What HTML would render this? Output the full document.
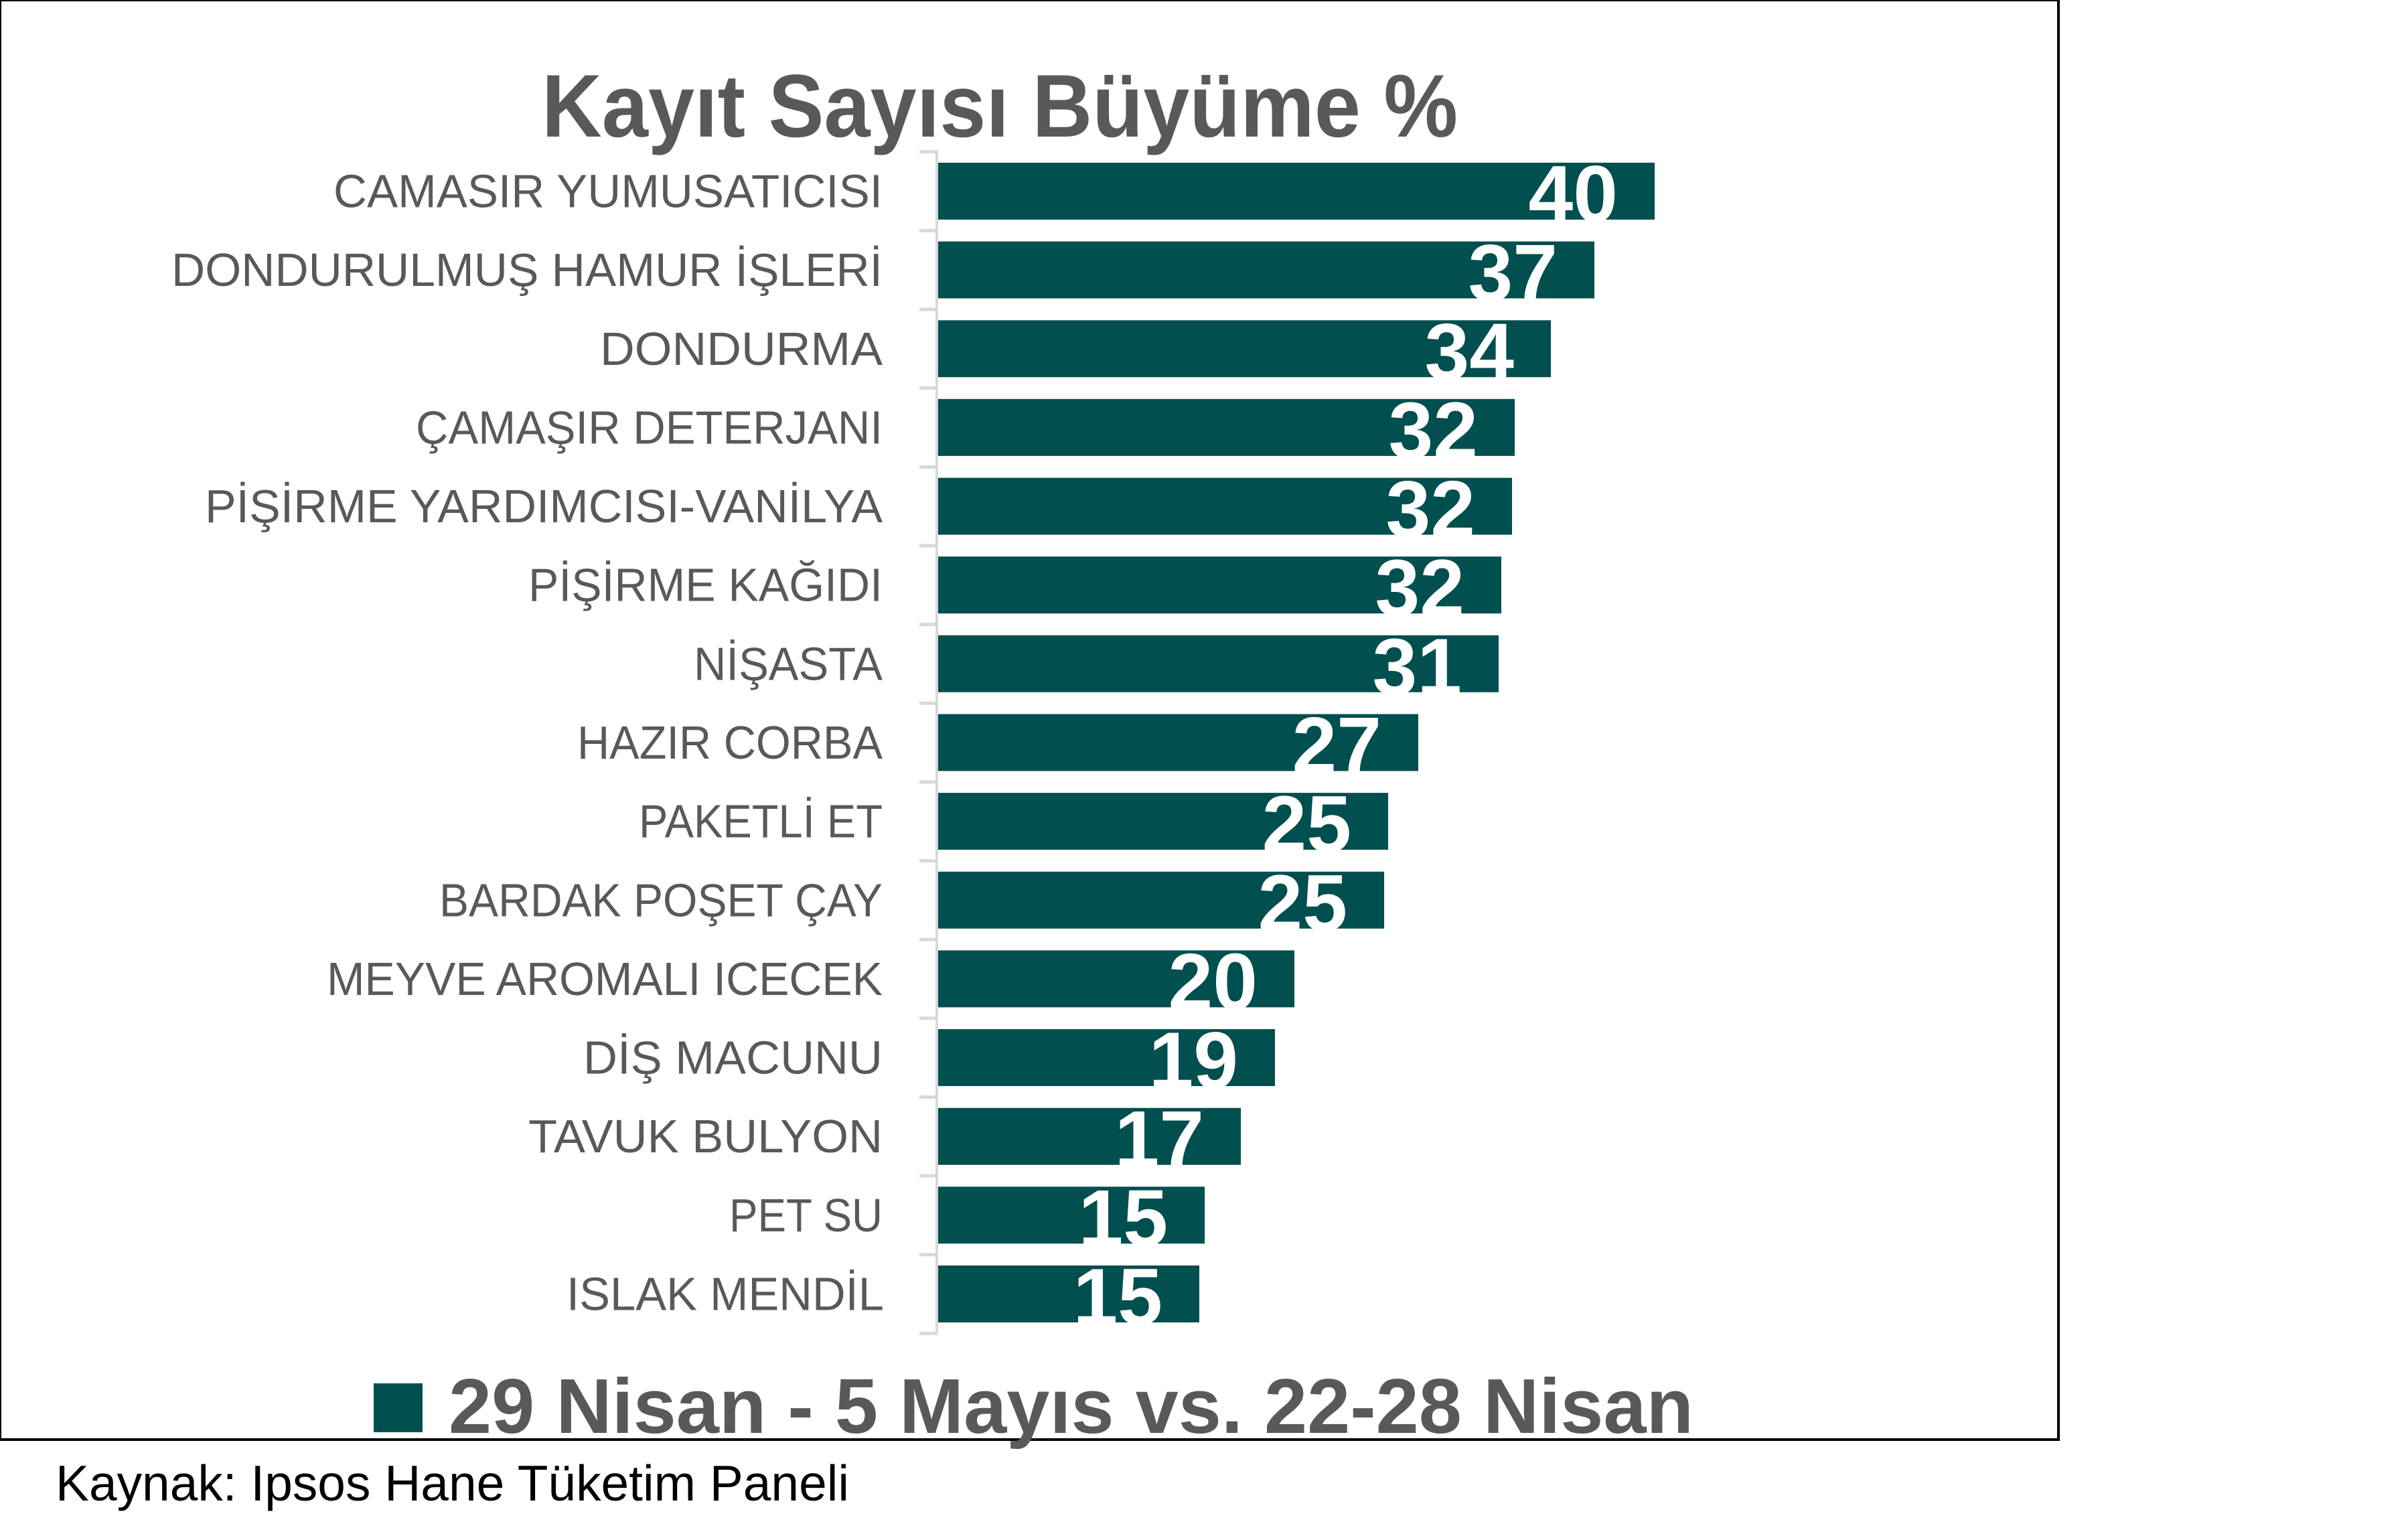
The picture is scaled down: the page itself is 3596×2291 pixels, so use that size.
<!DOCTYPE html>
<html>
<head>
<meta charset="utf-8">
<style>
  html, body { margin: 0; padding: 0; background: #ffffff; }
  body { width: 3596px; height: 2291px; overflow: hidden; }
  svg { display: block; }
</style>
</head>
<body>
<svg width="3596" height="2291" viewBox="0 0 3596 2291" xmlns="http://www.w3.org/2000/svg">
  <rect x="0" y="0" width="3596" height="2291" fill="#ffffff"/>
  <!-- outer frame -->
  <rect x="0" y="0" width="3074" height="2150" fill="none" stroke="#000000" stroke-width="4"/>

  <!-- title -->
  <text x="809" y="204" font-family="Liberation Sans, sans-serif" font-weight="bold" font-size="133" fill="#595959" textLength="1368" lengthAdjust="spacingAndGlyphs">Kayıt Sayısı Büyüme %</text>

  <!-- axis line -->
  <rect x="1397" y="224" width="4" height="1770" fill="#d9d9d9"/>
  <!-- ticks -->
  <g fill="#d9d9d9">
    <rect x="1373" y="224.3" width="26" height="5"/>
    <rect x="1373" y="341.9" width="26" height="5"/>
    <rect x="1373" y="459.6" width="26" height="5"/>
    <rect x="1373" y="577.2" width="26" height="5"/>
    <rect x="1373" y="694.9" width="26" height="5"/>
    <rect x="1373" y="812.5" width="26" height="5"/>
    <rect x="1373" y="930.1" width="26" height="5"/>
    <rect x="1373" y="1047.8" width="26" height="5"/>
    <rect x="1373" y="1165.4" width="26" height="5"/>
    <rect x="1373" y="1283.1" width="26" height="5"/>
    <rect x="1373" y="1400.7" width="26" height="5"/>
    <rect x="1373" y="1518.3" width="26" height="5"/>
    <rect x="1373" y="1636.0" width="26" height="5"/>
    <rect x="1373" y="1753.6" width="26" height="5"/>
    <rect x="1373" y="1871.3" width="26" height="5"/>
    <rect x="1373" y="1988.9" width="26" height="5"/>
  </g>

  <!-- bars -->
  <g fill="#024f4f">
    <rect x="1401" y="243.0" width="1070" height="85"/>
    <rect x="1401" y="360.6" width="980" height="85"/>
    <rect x="1401" y="478.3" width="915" height="85"/>
    <rect x="1401" y="595.9" width="861" height="85"/>
    <rect x="1401" y="713.6" width="857" height="85"/>
    <rect x="1401" y="831.2" width="841" height="85"/>
    <rect x="1401" y="948.8" width="837" height="85"/>
    <rect x="1401" y="1066.5" width="717" height="85"/>
    <rect x="1401" y="1184.1" width="672" height="85"/>
    <rect x="1401" y="1301.8" width="666" height="85"/>
    <rect x="1401" y="1419.4" width="532" height="85"/>
    <rect x="1401" y="1537.0" width="503" height="85"/>
    <rect x="1401" y="1654.7" width="452" height="85"/>
    <rect x="1401" y="1772.3" width="398" height="85"/>
    <rect x="1401" y="1890.0" width="390" height="85"/>
  </g>

  <!-- category labels -->
  <g font-family="Liberation Sans, sans-serif" font-size="70" fill="#595959" lengthAdjust="spacingAndGlyphs">
    <text x="498" y="309.5" textLength="820" lengthAdjust="spacingAndGlyphs">CAMASIR YUMUSATICISI</text>
    <text x="256" y="427.1" textLength="1062" lengthAdjust="spacingAndGlyphs">DONDURULMUŞ HAMUR İŞLERİ</text>
    <text x="896" y="544.8" textLength="422" lengthAdjust="spacingAndGlyphs">DONDURMA</text>
    <text x="621" y="662.4" textLength="697" lengthAdjust="spacingAndGlyphs">ÇAMAŞIR DETERJANI</text>
    <text x="306" y="780.1" textLength="1012" lengthAdjust="spacingAndGlyphs">PİŞİRME YARDIMCISI-VANİLYA</text>
    <text x="789" y="897.7" textLength="529" lengthAdjust="spacingAndGlyphs">PİŞİRME KAĞIDI</text>
    <text x="1036" y="1015.3" textLength="282" lengthAdjust="spacingAndGlyphs">NİŞASTA</text>
    <text x="862" y="1133.0" textLength="456" lengthAdjust="spacingAndGlyphs">HAZIR CORBA</text>
    <text x="954" y="1250.6" textLength="364" lengthAdjust="spacingAndGlyphs">PAKETLİ ET</text>
    <text x="656" y="1368.3" textLength="662" lengthAdjust="spacingAndGlyphs">BARDAK POŞET ÇAY</text>
    <text x="488" y="1485.9" textLength="830" lengthAdjust="spacingAndGlyphs">MEYVE AROMALI ICECEK</text>
    <text x="871" y="1603.5" textLength="447" lengthAdjust="spacingAndGlyphs">DİŞ MACUNU</text>
    <text x="789" y="1721.2" textLength="529" lengthAdjust="spacingAndGlyphs">TAVUK BULYON</text>
    <text x="1089" y="1838.8" textLength="229" lengthAdjust="spacingAndGlyphs">PET SU</text>
    <text x="846" y="1956.5" textLength="474" lengthAdjust="spacingAndGlyphs">ISLAK MENDİL</text>
  </g>

  <!-- value labels -->
  <g font-family="Liberation Sans, sans-serif" font-weight="bold" font-size="120" fill="#ffffff" text-anchor="end">
    <text x="2416" y="331.0">40</text>
    <text x="2326" y="448.6">37</text>
    <text x="2261" y="566.3">34</text>
    <text x="2207" y="683.9">32</text>
    <text x="2203" y="801.6">32</text>
    <text x="2187" y="919.2">32</text>
    <text x="2183" y="1036.8">31</text>
    <text x="2063" y="1154.5">27</text>
    <text x="2018" y="1272.1">25</text>
    <text x="2012" y="1389.8">25</text>
    <text x="1878" y="1507.4">20</text>
    <text x="1849" y="1625.0">19</text>
    <text x="1798" y="1742.7">17</text>
    <text x="1744" y="1860.3">15</text>
    <text x="1736" y="1978.0">15</text>
  </g>

  <!-- legend -->
  <rect x="558" y="2066" width="73" height="73" fill="#024f4f"/>
  <text x="670" y="2140" font-family="Liberation Sans, sans-serif" font-weight="bold" font-size="116" fill="#595959" textLength="1859" lengthAdjust="spacingAndGlyphs">29 Nisan - 5 Mayıs vs. 22-28 Nisan</text>

  <!-- source -->
  <text x="83" y="2241" font-family="Liberation Sans, Arial, sans-serif" font-size="75" fill="#000000" textLength="1185" lengthAdjust="spacingAndGlyphs">Kaynak: Ipsos Hane Tüketim Paneli</text>
</svg>
</body>
</html>
